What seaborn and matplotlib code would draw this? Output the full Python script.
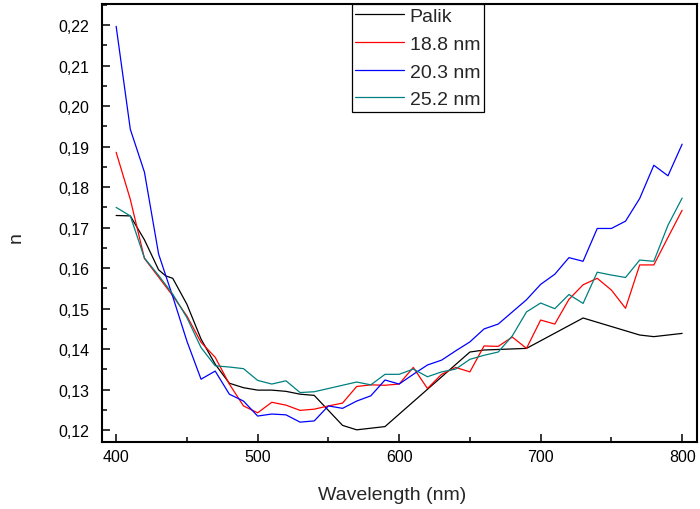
import numpy as np
import pandas as pd
import matplotlib
matplotlib.use("Agg")
import matplotlib.pyplot as plt
from matplotlib.ticker import MultipleLocator, FuncFormatter
import seaborn as sns

sns.set_theme(style="white")
plt.rcParams['font.family'] = ['Liberation Sans', 'DejaVu Sans']

# Film samples: wavelength grid (nm)
wl = list(range(400, 801, 10))

n_188 = [0.1886, 0.1770, 0.1624, 0.1578, 0.1532, 0.1482, 0.1417, 0.1380, 0.1314, 0.1260,
         0.1243, 0.1269, 0.1262, 0.1249, 0.1252, 0.1260, 0.1267, 0.1308, 0.1312, 0.1311,
         0.1314, 0.1355, 0.1303, 0.1338, 0.1355, 0.1344, 0.1408, 0.1407, 0.1430, 0.1402,
         0.1472, 0.1462, 0.1523, 0.1559, 0.1575, 0.1546, 0.1501, 0.1608, 0.1608, 0.1676,
         0.1743]

n_203 = [0.2197, 0.1943, 0.1837, 0.1635, 0.1530, 0.1420, 0.1326, 0.1346, 0.1289, 0.1272,
         0.1235, 0.1240, 0.1238, 0.1220, 0.1223, 0.1260, 0.1254, 0.1272, 0.1285, 0.1324,
         0.1314, 0.1338, 0.1361, 0.1373, 0.1396, 0.1418, 0.1450, 0.1462, 0.1492, 0.1522,
         0.1560, 0.1585, 0.1626, 0.1617, 0.1698, 0.1698, 0.1716, 0.1772, 0.1854, 0.1828,
         0.1906]

n_252 = [0.1750, 0.1729, 0.1625, 0.1582, 0.1536, 0.1478, 0.1404, 0.1359, 0.1356, 0.1352,
         0.1323, 0.1314, 0.1322, 0.1293, 0.1295, 0.1303, 0.1311, 0.1319, 0.1312, 0.1338,
         0.1338, 0.1351, 0.1332, 0.1344, 0.1351, 0.1375, 0.1385, 0.1393, 0.1433, 0.1492,
         0.1514, 0.1500, 0.1535, 0.1513, 0.1590, 0.1583, 0.1577, 0.1620, 0.1617, 0.1706,
         0.1773]

# Palik reference (own wavelength grid)
wl_palik = [400, 410, 420, 430, 435, 440, 450, 460, 470, 480, 490, 500, 510, 520, 530,
            540, 560, 570, 590, 650, 660, 690, 730, 770, 780, 800]
n_palik = [0.1730, 0.1729, 0.1670, 0.1596, 0.1581, 0.1575, 0.1511, 0.1425, 0.1363, 0.1316,
           0.1305, 0.1299, 0.1299, 0.1296, 0.1289, 0.1286, 0.1212, 0.1201, 0.1209, 0.1393,
           0.1398, 0.1402, 0.1477, 0.1435, 0.1431, 0.1439]

labels = ["Palik", "18.8 nm", "20.3 nm", "25.2 nm"]
colors = ["#000000", "#FF0000", "#0000FF", "#008080"]

fig = plt.figure(figsize=(7.0, 5.1), dpi=100)
ax = fig.add_axes([0.1457, 0.1314, 0.8500, 0.8588])

series = [(wl_palik, n_palik), (wl, n_188), (wl, n_203), (wl, n_252)]
for (x, y), lab, c in zip(series, labels, colors):
    sns.lineplot(x=x, y=y, ax=ax, color=c, lw=0.9, label=lab,
                 estimator=None, sort=False)

ax.set_xlim(390, 810.5)
ax.set_ylim(0.1171, 0.2252)
ax.xaxis.set_major_locator(MultipleLocator(100))
ax.xaxis.set_minor_locator(MultipleLocator(50))
ax.yaxis.set_major_locator(MultipleLocator(0.01))
ax.yaxis.set_minor_locator(MultipleLocator(0.005))
ax.yaxis.set_major_formatter(FuncFormatter(lambda v, p: f"{v:.2f}".replace('.', ',')))

ax.tick_params(which='both', direction='in', top=False, right=False,
               bottom=True, left=True, colors='black', labelsize=11.5, width=1.1)
ax.tick_params(axis='y', which='major', length=6, pad=9)
ax.tick_params(axis='x', which='major', length=6, pad=5)
ax.tick_params(which='minor', length=3.5)

for s in ax.spines.values():
    s.set_color('black')
    s.set_linewidth(1.5)

ax.set_xlabel("Wavelength (nm)", fontsize=14)
ax.xaxis.set_label_coords(0.487, -0.1)
ax.set_ylabel("n", fontsize=14)
ax.yaxis.set_label_coords(-0.13, 0.47)

leg = ax.legend(loc='upper left', bbox_to_anchor=(0.42, 1.0), fontsize=14,
                frameon=True, fancybox=False, shadow=False, framealpha=1,
                edgecolor='black', handlelength=2.5, handletextpad=0.3,
                labelspacing=0.52, borderpad=0.18, borderaxespad=0)
leg.get_frame().set_linewidth(0.9)

fig.savefig("out.png", dpi=100)
